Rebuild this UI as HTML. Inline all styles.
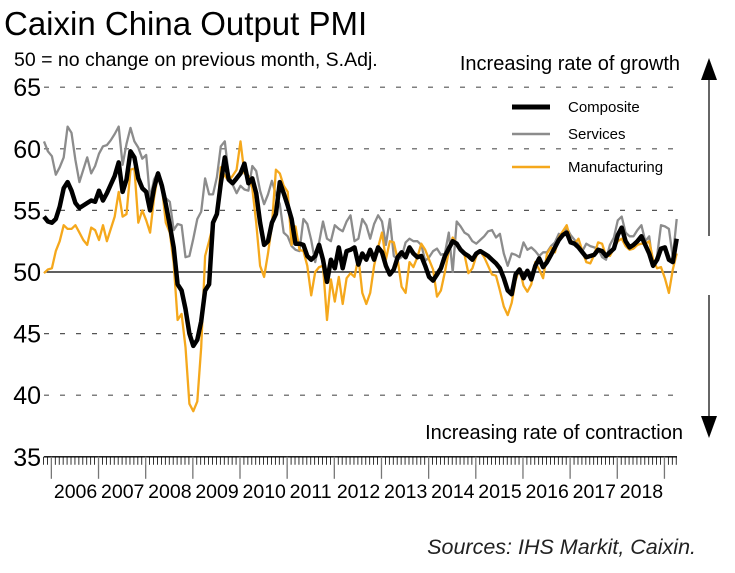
<!DOCTYPE html>
<html><head><meta charset="utf-8"><style>
body{margin:0;background:#fff;width:735px;height:573px;overflow:hidden;font-family:"Liberation Sans",Arial,sans-serif}
svg{display:block}
</style></head><body>
<svg width="735" height="573" viewBox="0 0 735 573">
<text x="4" y="35" font-size="33" fill="#000">Caixin China Output PMI</text>
<text x="14" y="66" font-size="19.5" fill="#000">50 = no change on previous month, S.Adj.</text>
<text x="680" y="70" font-size="20" text-anchor="end">Increasing rate of growth</text>
<text x="683" y="439" font-size="20" text-anchor="end">Increasing rate of contraction</text>
<text x="696" y="554" font-size="21.5" font-style="italic" text-anchor="end" fill="#222">Sources: IHS Markit, Caixin.</text>
<g>
<line x1="709" y1="72" x2="709" y2="236" stroke="#000" stroke-width="1.2"/>
<polygon points="701,80 709,58 717,80" fill="#000"/>
</g>
<g>
<line x1="709" y1="295" x2="709" y2="425" stroke="#000" stroke-width="1.2"/>
<polygon points="701,416 709,438 717,416" fill="#000"/>
</g>
<g id="grid"></g>
<g id="yaxis"></g>
<g id="xaxis"></g>
<g id="series"></g>
<g>
<line x1="512" y1="107" x2="550" y2="107" stroke="#000" stroke-width="5"/>
<text x="568" y="112" font-size="15">Composite</text>
<line x1="512" y1="134" x2="550" y2="134" stroke="#8c8c8c" stroke-width="2.5"/>
<text x="568" y="139" font-size="15">Services</text>
<line x1="512" y1="167" x2="550" y2="167" stroke="#f5a81c" stroke-width="2.5"/>
<text x="568" y="172" font-size="15">Manufacturing</text>
</g>
</svg>
<script>
const startYear = 2005, startMonth = 10; // Nov 2005 (0-based month)
const yTicks = [35,40,45,50,55,60,65];
const yearLabels = ["2006","2007","2008","2009","2010","2011","2012","2013","2014","2015","2016","2017","2018"];
const composite = [54.5,54.1,54.0,54.3,55.3,56.8,57.3,56.6,55.6,55.2,55.4,55.6,55.8,55.7,56.6,55.8,56.4,57.1,57.8,58.9,56.5,57.5,59.8,59.3,57.6,56.8,56.5,55,56.8,58,57,55.5,53.8,52,49,48.5,47,45,44,44.5,46,48.5,49,54,54.7,57.2,59.3,57.5,57.2,57.6,58,58.8,57.2,57.6,56.4,54,52.2,52.5,54,54.7,57.3,56.4,55.4,54.3,52.3,52.3,52.2,51.3,51,51.3,52.2,51,49.2,51,50.3,52,50.3,51.7,51.8,52,50.6,51.5,51,51.8,51,52,51.6,50.5,49.8,50.2,51.2,51.6,51.2,52,51.5,51.2,51.3,50.5,49.6,49.3,49.8,50.3,51.3,51.9,52.5,52.3,51.8,51.5,51.3,51,51.5,51.7,51.5,51.3,51,50.7,50.3,49.5,48.5,48.2,49.8,50.2,49.5,50.1,49.4,50.5,51.1,50.4,50.8,51.4,52,52.6,53,53.2,52.4,52.3,52,51.6,51.2,51.3,51.4,51.8,51.7,51.3,51.6,51.9,53,53.6,52.5,52,52.2,52.5,52.9,52.2,51.5,50.5,51,51.9,52,51,50.8,52.7];
const services = [60.6,59.8,59.4,57.9,58.5,59.3,61.8,61.3,59.1,57.3,58.3,59.3,58,58.6,59.6,60.2,60.3,60.7,61.2,61.8,58.7,60.4,61.7,60.6,60.1,59.2,59.5,55.9,57.5,58.1,57.3,56,55.7,53.4,53.9,53.8,51.2,51.3,52.7,54.3,54.9,57.6,56.3,56.3,57.7,60.2,60.6,57.9,57.1,56.4,57,56.7,56.6,58.6,58.2,56.6,55.5,56.3,57.4,56.3,55.5,53.2,52.9,52.1,51.8,51.7,54.3,53.9,52.6,50.8,52.4,54.1,52.7,52.5,53.8,53.5,53.3,54.1,54.6,52.5,52.7,54.3,53.8,52.7,53.9,54.6,54.1,52.2,54.3,51.3,51,51.2,52.4,52.7,52.5,52.5,52.2,50.9,51.2,51.7,51.9,51.4,51.5,53.2,50,54.1,53.7,53.2,53,52.5,52.3,52.6,52.9,53.3,53.4,52.8,53.1,51.5,50.5,51.5,51.4,51.2,52.4,51.8,52,51.7,51.3,51.6,51.6,52.1,52.4,53.1,52.9,53.6,53,52.6,52.2,51.7,52.3,52.1,52,51.9,51.2,51,52.2,52.8,54.2,54.5,53.2,52.9,52.9,53.4,53.8,52.5,52.9,50.4,51.3,53.8,53.7,53.5,51.2,54.3];
const manufacturing = [49.9,50.2,50.3,51.7,52.5,53.8,53.5,53.5,53.8,53.2,52.6,52.2,53.6,53.4,52.6,53.8,52.5,53.5,54.5,56.5,54.5,54.7,58.3,58.4,54,55,54.2,53.2,56,57.9,56.9,54,53.2,50.7,46.1,46.6,43.9,39.3,38.7,39.5,43.9,51.3,52.5,53.8,54.5,58.5,57.8,57.4,57.8,58.3,60.6,58,57.8,56.8,54,50.5,49.6,51.5,53.8,58.3,58,57,56.5,52.2,53.7,51.8,51.7,50.5,48.1,50,50.4,50.5,46.1,49.4,47.6,49.6,47.4,49.5,49.9,49.6,51.2,48.3,47.4,48.3,50.5,52,53.2,51,52.5,52.4,51,48.8,48.3,50.8,50.4,51.2,52.3,51.8,51,50.2,48,48.5,50,51.7,52.8,52.3,51.8,51.4,49.9,50.3,51.3,51.7,51.2,50.5,49.8,49.7,48.5,47.2,46.5,47.5,49.3,50.3,48.9,48.4,49,50.8,50.2,49.5,51.5,52,51.6,52.8,53.3,53.8,52.6,52.3,52.7,51.7,50.8,50.7,51.4,52.4,52.3,51.3,51.3,51.9,52.5,52.7,52.1,51.8,51.9,52.2,52.3,52.3,52.5,51,50.3,50.4,49.5,48.3,50.2,51.5];

const NS = "http://www.w3.org/2000/svg";
const X0 = 44, DX = 3.93, XEND = 677;
const yScale = v => 272 - (v - 50) * 12.32;
const xScale = i => X0 + i * DX;
function mk(tag, attrs, parent){const e=document.createElementNS(NS,tag);for(const k in attrs)e.setAttribute(k,attrs[k]);parent.appendChild(e);return e;}

const grid = document.getElementById("grid");
const yaxis = document.getElementById("yaxis");
yTicks.forEach(v => {
  const y = yScale(v);
  if (v === 50) {
    const l = mk("line",{x1:X0,x2:XEND,y1:y,y2:y,stroke:"#000","stroke-width":1.2},grid);
    
    
  } else if (v !== 35) {
    const l = mk("line",{x1:X0,x2:XEND,y1:y,y2:y,stroke:"#555","stroke-width":1.2,"stroke-dasharray":"5,11"},grid);
    
    
  }
  const t = mk("text",{x:41,y:y+9,"font-size":25,"text-anchor":"end",fill:"#000"},yaxis);
  t.textContent = v;
  
  
});

const xaxis = document.getElementById("xaxis");
const AY = yScale(35);
const al = mk("line",{x1:X0,x2:XEND,y1:AY,y2:AY,stroke:"#000","stroke-width":1.3},xaxis);


const nMonths = composite.length;
for (let i = 0; i < nMonths; i++) {
  const m = (startMonth + i) % 12;
  const x = xScale(i) - 0.5;
  if (m === 0) {
    const tk = mk("line",{x1:x,x2:x,y1:AY,y2:AY+22,stroke:"#777","stroke-width":1.3},xaxis);
    
    
  } else {
    const tk = mk("line",{x1:x,x2:x,y1:AY,y2:AY+8,stroke:"#000","stroke-width":0.8},xaxis);
    
    
  }
}
yearLabels.forEach(lbl => {
  const idx = (parseInt(lbl) - startYear) * 12 - startMonth;
  const t = mk("text",{x:xScale(idx)+2,y:AY+41,"font-size":19.5,fill:"#000"},xaxis);
  t.textContent = lbl;
  
  
});

const series = document.getElementById("series");
function draw(arr, color, w, name){
  const d = arr.map((v,i)=>(i?"L":"M")+xScale(i).toFixed(1)+","+yScale(v).toFixed(1)).join(" ");
  const p = mk("path",{d:d,fill:"none",stroke:color,"stroke-width":w,"stroke-linejoin":"round"},series);
  
  
}
draw(services,"#8c8c8c",2.3,"services-line");
draw(manufacturing,"#f5a81c",2.3,"manufacturing-line");
draw(composite,"#000",4.5,"composite-line");
</script>
</body></html>
